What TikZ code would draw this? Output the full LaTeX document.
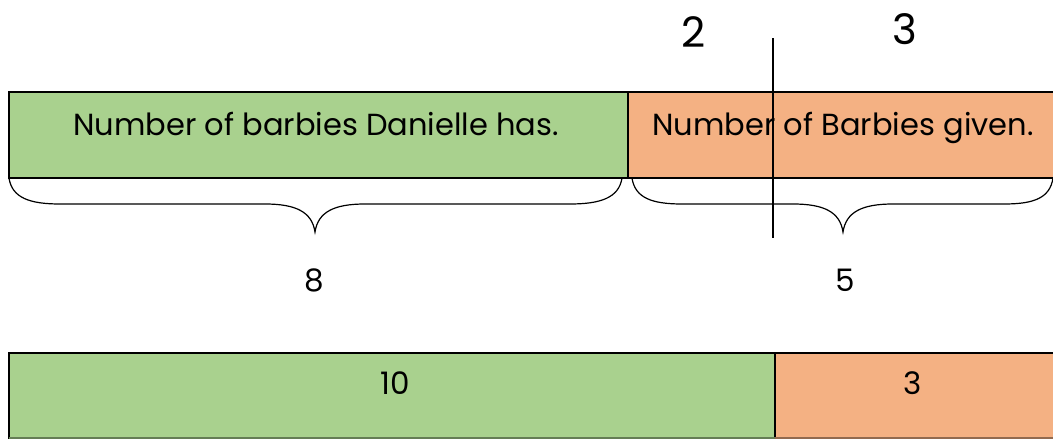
\documentclass[tikz,border=0pt]{standalone}
\usepackage{fontspec}
\setmainfont{Poppins}
\definecolor{gbar}{HTML}{A9D18E}
\definecolor{obar}{HTML}{F4B183}
\begin{document}
\begin{tikzpicture}[x=1pt,y=-1pt,
  lbl/.style={font=\fontsize{30.5}{34}\selectfont,inner sep=0pt,anchor=base},
  num/.style={font=\fontsize{31}{34}\selectfont,inner sep=0pt},
  big/.style={font=\fontsize{42}{46}\selectfont,inner sep=0pt},
  brace/.style={draw=black,line width=1.2pt}]
\useasboundingbox (0,0) rectangle (1053,439);
\begin{scope}
\clip (0,0) rectangle (1053,439);
% top bars
\fill[gbar] (9,92) rectangle (627,178);
\fill[obar] (627,92) rectangle (1060,178);
\draw[line width=1.2pt] (1060,92) -- (9,92) -- (9,178) -- (1060,178);
\draw[line width=2.8pt] (628,91) -- (628,179);
\node[lbl] (t1) at (316,135) {Number of barbies Danielle has.};
\node[lbl] (t2) at (843,135) {Number of Barbies given.};
% braces
\draw[brace] (9,178) .. controls (12,198) and (30,204) .. (60,204) -- (265,204)
  .. controls (296,204) and (312,212) .. (315,232)
  .. controls (318,212) and (334,204) .. (365,204) -- (570,204)
  .. controls (600,204) and (619,198) .. (622,178);
\draw[brace] (632,178) .. controls (635,198) and (652,204) .. (682,204) -- (793,204)
  .. controls (824,204) and (840,212) .. (843,232)
  .. controls (846,212) and (862,204) .. (893,204) -- (1004,204)
  .. controls (1034,204) and (1050,198) .. (1053,178);
% split line
\coordinate (s1) at (773,38);
\coordinate (s2) at (773,238);
\draw[line width=1.3pt] (s1) -- (s2);
\node[big] (n2) at (694,32) {2};
\node[big] (n3) at (905,29) {3};
\node[num] (n8) at (314,280) {8};
\node[num] (n5) at (845,280) {5};
% bottom bars
\fill[gbar] (9,353) rectangle (775,439);
\fill[obar] (775,353) rectangle (1060,439);
\draw[line width=1.2pt] (1060,353) -- (9,353) -- (9,440);
\draw[line width=1.2pt] (775,353) -- (775,440);
\draw[line width=1.2pt,draw=gbar!60!black] (9,438) -- (775,438);
\draw[line width=1.2pt,draw=obar!60!black] (775,438) -- (1060,438);
\node[num] (b10) at (395,383) {10};
\node[num] (b3) at (913,383) {3};
\end{scope}
\end{tikzpicture}
\end{document}
